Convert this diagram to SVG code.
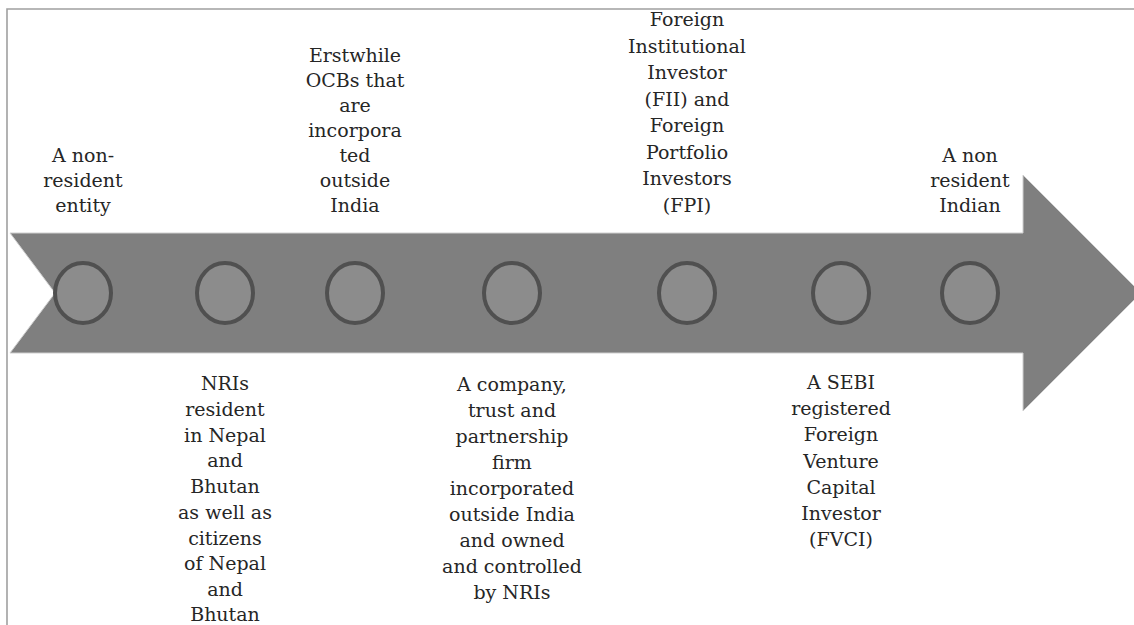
<svg xmlns="http://www.w3.org/2000/svg" width="1134" height="625" viewBox="0 0 1134 625">
<style>
.frame{stroke:#a0a0a0;stroke-width:1.6;fill:none}
.arrow{fill:#7f7f7f;stroke:#cfcfcf;stroke-width:1}
.dot{fill:#8c8c8c;stroke:#505050;stroke-width:4}
.lbl{font-family:"DejaVu Serif","Liberation Serif",serif;font-size:19px;fill:#262626;text-anchor:middle}
</style>
<rect width="1134" height="625" fill="#ffffff"/>
<path class="frame" d="M7,625 V9 H1134"/>
<g id="connectors">
<path id="arrow" class="arrow" d="M10,233 H1023 V175 L1141,293 L1023,411 V353 H10 L55,293 Z"/>
</g>
<g id="node1">
<ellipse class="dot" cx="83" cy="293" rx="28" ry="30"/>
<text class="lbl"><tspan x="83" y="162">A non-</tspan><tspan x="83" y="187">resident</tspan><tspan x="83" y="212">entity</tspan></text>
</g>
<g id="node2">
<ellipse class="dot" cx="225" cy="293" rx="28" ry="30"/>
<text class="lbl"><tspan x="225" y="390">NRIs</tspan><tspan x="225" y="416">resident</tspan><tspan x="225" y="442">in Nepal</tspan><tspan x="225" y="467">and</tspan><tspan x="225" y="493">Bhutan</tspan><tspan x="225" y="519">as well as</tspan><tspan x="225" y="545">citizens</tspan><tspan x="225" y="570">of Nepal</tspan><tspan x="225" y="596">and</tspan><tspan x="225" y="621">Bhutan</tspan></text>
</g>
<g id="node3">
<ellipse class="dot" cx="355" cy="293" rx="28" ry="30"/>
<text class="lbl"><tspan x="355" y="62">Erstwhile</tspan><tspan x="355" y="87">OCBs that</tspan><tspan x="355" y="112">are</tspan><tspan x="355" y="137">incorpora</tspan><tspan x="355" y="162">ted</tspan><tspan x="355" y="187">outside</tspan><tspan x="355" y="212">India</tspan></text>
</g>
<g id="node4">
<ellipse class="dot" cx="512" cy="293" rx="28" ry="30"/>
<text class="lbl"><tspan x="512" y="391">A company,</tspan><tspan x="512" y="417">trust and</tspan><tspan x="512" y="443">partnership</tspan><tspan x="512" y="469">firm</tspan><tspan x="512" y="495">incorporated</tspan><tspan x="512" y="521">outside India</tspan><tspan x="512" y="547">and owned</tspan><tspan x="512" y="573">and controlled</tspan><tspan x="512" y="599">by NRIs</tspan></text>
</g>
<g id="node5">
<ellipse class="dot" cx="687" cy="293" rx="28" ry="30"/>
<text class="lbl"><tspan x="687" y="26">Foreign</tspan><tspan x="687" y="53">Institutional</tspan><tspan x="687" y="79">Investor</tspan><tspan x="687" y="106">(FII) and</tspan><tspan x="687" y="132">Foreign</tspan><tspan x="687" y="159">Portfolio</tspan><tspan x="687" y="185">Investors</tspan><tspan x="687" y="212">(FPI)</tspan></text>
</g>
<g id="node6">
<ellipse class="dot" cx="841" cy="293" rx="28" ry="30"/>
<text class="lbl"><tspan x="841" y="389">A SEBI</tspan><tspan x="841" y="415">registered</tspan><tspan x="841" y="441">Foreign</tspan><tspan x="841" y="468">Venture</tspan><tspan x="841" y="494">Capital</tspan><tspan x="841" y="520">Investor</tspan><tspan x="841" y="546">(FVCI)</tspan></text>
</g>
<g id="node7">
<ellipse class="dot" cx="970" cy="293" rx="28" ry="30"/>
<text class="lbl"><tspan x="970" y="162">A non</tspan><tspan x="970" y="187">resident</tspan><tspan x="970" y="212">Indian</tspan></text>
</g>
</svg>
